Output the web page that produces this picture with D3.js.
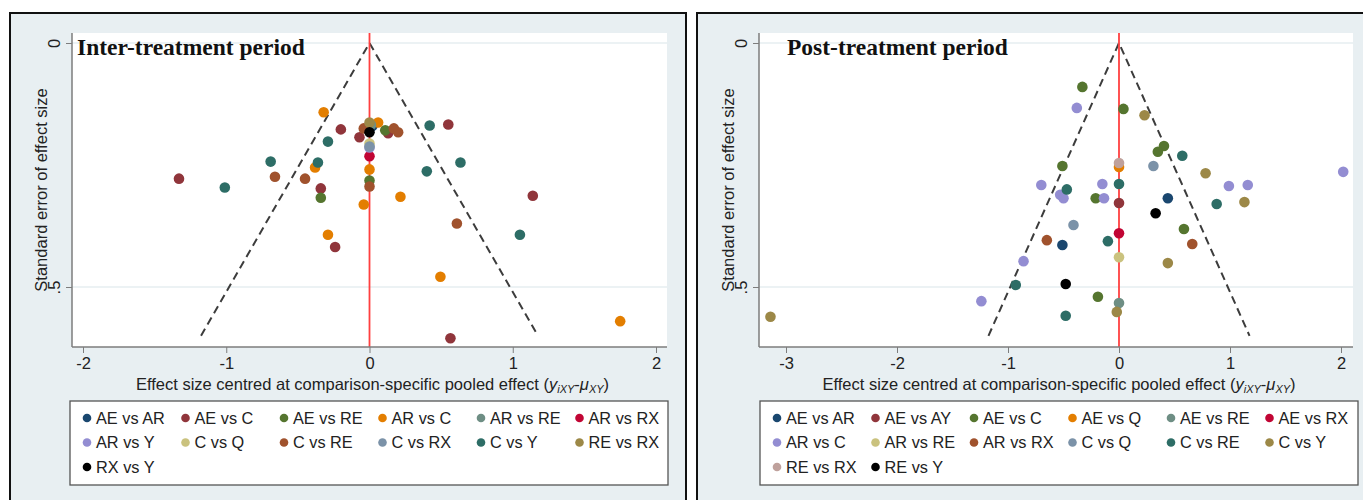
<!DOCTYPE html>
<html>
<head>
<meta charset="utf-8">
<script src="https://cdn.jsdelivr.net/npm/d3@7"></script>
<style>
  body { margin: 0; background: #fff; }
  svg { display: block; font-family: "Liberation Sans", Arial, sans-serif; }
</style>
</head>
<body>
<svg width="1363" height="500"></svg>
<script>
// Stata s2color-style palette, in legend order
var palette = ["#1a476f", "#90353b", "#55752f", "#e37e00", "#6e8e84", "#c10534",
               "#938dd2", "#cac27e", "#a0522d", "#7b92a8", "#2d6d66", "#9c8847", "#000000"];
var palettePost = ["#1a476f", "#90353b", "#55752f", "#e37e00", "#6e8e84", "#c10534",
                   "#938dd2", "#cac27e", "#a0522d", "#7b92a8", "#2d6d66", "#9c8847", "#bfa19c", "#000000"];

// Inter-treatment period
var interComparisons = ["AE vs AR", "AE vs C", "AE vs RE", "AR vs C", "AR vs RE", "AR vs RX",
                        "AR vs Y", "C vs Q", "C vs RE", "C vs RX", "C vs Y", "RE vs RX", "RX vs Y"];
var interXTicks = [-2, -1, 0, 1, 2];
// [comparison, effect centred, standard error]
var interPoints = [
  ["AE vs AR", 0.02, 0.17],
  ["AE vs C", -0.20, 0.177], ["AE vs C", -1.33, 0.278], ["AE vs C", -0.34, 0.298],
  ["AE vs C", -0.24, 0.418], ["AE vs C", -0.07, 0.193], ["AE vs C", 0.13, 0.185],
  ["AE vs C", 0.55, 0.167], ["AE vs C", 1.14, 0.313], ["AE vs C", 0.565, 0.605],
  ["AE vs RE", -0.34, 0.317], ["AE vs RE", 0.0, 0.282], ["AE vs RE", 0.11, 0.179],
  ["AR vs C", -0.32, 0.142], ["AR vs C", -0.38, 0.255], ["AR vs C", -0.29, 0.393],
  ["AR vs C", 0.06, 0.163], ["AR vs C", 0.0, 0.259], ["AR vs C", 0.216, 0.315],
  ["AR vs C", -0.04, 0.331], ["AR vs C", 0.495, 0.479], ["AR vs C", 1.75, 0.570],
  ["AR vs RE", 0.01, 0.168],
  ["AR vs RX", 0.0, 0.232],
  ["AR vs Y", 0.0, 0.214],
  ["C vs Q", 0.0, 0.206],
  ["C vs RE", -0.66, 0.274], ["C vs RE", -0.45, 0.278], ["C vs RE", -0.04, 0.175],
  ["C vs RE", 0.0, 0.294], ["C vs RE", 0.17, 0.175], ["C vs RE", 0.20, 0.183],
  ["C vs RE", 0.61, 0.370],
  ["C vs RX", 0.0, 0.212],
  ["C vs Y", -0.29, 0.202], ["C vs Y", -0.69, 0.243], ["C vs Y", -0.36, 0.245],
  ["C vs Y", -1.01, 0.296], ["C vs Y", 0.42, 0.169], ["C vs Y", 0.635, 0.245],
  ["C vs Y", 0.40, 0.263], ["C vs Y", 1.05, 0.393],
  ["RE vs RX", 0.0, 0.163],
  ["RX vs Y", 0.0, 0.183]
];

// Post-treatment period
var postComparisons = ["AE vs AR", "AE vs AY", "AE vs C", "AE vs Q", "AE vs RE", "AE vs RX",
                       "AR vs C", "AR vs RE", "AR vs RX", "C vs Q", "C vs RE", "C vs Y",
                       "RE vs RX", "RE vs Y"];
var postXTicks = [-3, -2, -1, 0, 1, 2];
var postPoints = [
  ["AE vs AR", 0.44, 0.318], ["AE vs AR", -0.51, 0.414],
  ["AE vs AY", 0.0, 0.328],
  ["AE vs C", -0.33, 0.090], ["AE vs C", 0.04, 0.135], ["AE vs C", 0.405, 0.211],
  ["AE vs C", 0.35, 0.223], ["AE vs C", -0.51, 0.252], ["AE vs C", -0.21, 0.318],
  ["AE vs C", 0.585, 0.381], ["AE vs C", -0.19, 0.520],
  ["AE vs Q", 0.0, 0.254],
  ["AE vs RE", 0.0, 0.533],
  ["AE vs RX", 0.0, 0.390],
  ["AR vs C", -0.38, 0.133], ["AR vs C", 2.02, 0.264], ["AR vs C", -0.70, 0.291],
  ["AR vs C", -0.15, 0.289], ["AR vs C", 0.99, 0.293], ["AR vs C", 1.16, 0.291],
  ["AR vs C", -0.53, 0.311], ["AR vs C", -0.50, 0.318], ["AR vs C", -0.135, 0.318],
  ["AR vs C", -0.86, 0.447], ["AR vs C", -1.24, 0.529],
  ["AR vs RE", 0.0, 0.439],
  ["AR vs RX", -0.65, 0.404], ["AR vs RX", 0.66, 0.412],
  ["C vs Q", 0.31, 0.252], ["C vs Q", -0.41, 0.373],
  ["C vs RE", 0.57, 0.231], ["C vs RE", 0.0, 0.289], ["C vs RE", -0.47, 0.300],
  ["C vs RE", 0.88, 0.330], ["C vs RE", -0.10, 0.406], ["C vs RE", -0.93, 0.496],
  ["C vs RE", -0.48, 0.559],
  ["C vs Y", 0.23, 0.148], ["C vs Y", 0.78, 0.267], ["C vs Y", 1.13, 0.326],
  ["C vs Y", 0.44, 0.451], ["C vs Y", -0.02, 0.551], ["C vs Y", -3.14, 0.561],
  ["RE vs RX", 0.0, 0.246],
  ["RE vs Y", 0.33, 0.349], ["RE vs Y", -0.48, 0.494]
];

var yTicks = [0, 0.5];
var yTickLabels = ["0", ".5"];

var svg = d3.select("svg");

function drawPanel(opt) {
  var g = svg.append("g");

  // panel frame + background
  g.append("rect")
    .attr("x", opt.left).attr("y", 13)
    .attr("width", opt.right - opt.left).attr("height", 520)
    .attr("fill", "#e8eff2")
    .attr("stroke", "#111").attr("stroke-width", 2);

  var x = d3.scaleLinear().domain(opt.xDomain).range(opt.xRange),
      y = d3.scaleLinear().domain([0, 0.5]).range([43, 287]);

  var px0 = opt.plotLeft, px1 = opt.plotRight, py0 = 33, py1 = 347;

  // plot region
  g.append("rect")
    .attr("x", px0).attr("y", py0)
    .attr("width", px1 - px0).attr("height", py1 - py0)
    .attr("fill", "#fff");

  // light gridlines
  g.selectAll(".grid").data(yTicks).enter().append("line")
    .attr("x1", px0).attr("x2", px1)
    .attr("y1", function(d) { return y(d); }).attr("y2", function(d) { return y(d); })
    .attr("stroke", "#e6eef0").attr("stroke-width", 1.5);

  // funnel (pseudo 95% limits)
  var funnel = [[-1.96 * 0.6, 0.6], [0, 0], [1.96 * 0.6, 0.6]];
  g.append("path")
    .datum(funnel)
    .attr("fill", "none")
    .attr("stroke", "#3c3c3c")
    .attr("stroke-width", 2)
    .attr("stroke-dasharray", "8,5")
    .attr("d", d3.line().x(function(d) { return x(d[0]); }).y(function(d) { return y(d[1]); }));

  // reference line at zero
  g.append("line")
    .attr("x1", x(0)).attr("x2", x(0))
    .attr("y1", py0).attr("y2", py1)
    .attr("stroke", "#ff4040").attr("stroke-width", 1.8);

  // points, drawn in legend order so later series sit on top
  var pts = opt.points.slice().sort(function(a, b) {
    return opt.cats.indexOf(a[0]) - opt.cats.indexOf(b[0]);
  });
  g.selectAll(".pt").data(pts).enter().append("circle")
    .attr("cx", function(d) { return x(d[1]); })
    .attr("cy", function(d) { return y(d[2]); })
    .attr("r", 5.3)
    .attr("fill", function(d) { return opt.colors[opt.cats.indexOf(d[0])]; });

  // axes
  var xAxis = g.append("g")
    .attr("transform", "translate(0," + py1 + ")")
    .call(d3.axisBottom(x).tickValues(opt.xTicks).tickSize(6).tickPadding(4).tickFormat(d3.format("d")));
  xAxis.select(".domain").attr("d", "M" + px0 + ",0H" + px1).attr("stroke", "#7d7d7d").attr("stroke-width", 1.5);
  xAxis.selectAll(".tick line").attr("stroke", "#7d7d7d");
  xAxis.selectAll("text").attr("font-size", 16.5).attr("fill", "#222")
    .text(function(d) { return d < 0 ? "-" + Math.abs(d) : d; });

  var yAxis = g.append("g")
    .attr("transform", "translate(" + px0 + ",0)")
    .call(d3.axisLeft(y).tickValues(yTicks).tickSize(6).tickFormat(function(d, i) { return yTickLabels[i]; }));
  yAxis.select(".domain").attr("d", "M0," + py0 + "V" + py1).attr("stroke", "#7d7d7d").attr("stroke-width", 1.5);
  yAxis.selectAll(".tick line").attr("stroke", "#7d7d7d");
  yAxis.selectAll("text")
    .attr("font-size", 16.5).attr("fill", "#222")
    .attr("x", null).attr("dy", null)
    .attr("text-anchor", "middle")
    .attr("transform", "translate(-12,0) rotate(-90)");

  // title
  g.append("text")
    .attr("x", opt.titleX).attr("y", 55)
    .attr("font-family", "'Liberation Serif', 'Times New Roman', serif")
    .attr("font-weight", "bold")
    .attr("font-size", 23.5)
    .attr("fill", "#111")
    .text(opt.title);

  // y axis title
  g.append("text")
    .attr("transform", "translate(" + (px0 - 25) + "," + 190 + ") rotate(-90)")
    .attr("text-anchor", "middle")
    .attr("font-size", 16.5).attr("fill", "#222")
    .text("Standard error of effect size");

  // x axis title
  var xt = g.append("text")
    .attr("x", (px0 + px1) / 2 + 3).attr("y", 390)
    .attr("text-anchor", "middle")
    .attr("font-size", 16.5).attr("fill", "#222");
  xt.append("tspan").text("Effect size centred at comparison-specific pooled effect (");
  xt.append("tspan").attr("font-style", "italic").text("y");
  xt.append("tspan").attr("font-style", "italic").attr("font-size", 11).attr("dy", 3).text("iXY");
  xt.append("tspan").attr("dy", -3).text("-");
  xt.append("tspan").attr("font-style", "italic").text("μ");
  xt.append("tspan").attr("font-style", "italic").attr("font-size", 11).attr("dy", 3).text("XY");
  xt.append("tspan").attr("dy", -3).text(")");

  // legend
  g.append("rect")
    .attr("x", opt.legendLeft).attr("y", 401)
    .attr("width", 598).attr("height", 84)
    .attr("fill", "#fff").attr("stroke", "#555").attr("stroke-width", 1.3);

  var items = g.selectAll(".leg").data(opt.cats).enter().append("g")
    .attr("transform", function(d, i) {
      return "translate(" + (opt.legendLeft + 17 + (i % 6) * 98.5) + "," + (418 + Math.floor(i / 6) * 24.5) + ")";
    });
  items.append("circle").attr("r", 4.3).attr("cy", 0)
    .attr("fill", function(d, i) { return opt.colors[i]; });
  items.append("text").attr("x", 9).attr("dy", "0.36em")
    .attr("font-size", 16.3).attr("fill", "#222")
    .text(function(d) { return d; });
}

drawPanel({
  left: 10, right: 686, plotLeft: 72, plotRight: 667,
  xDomain: [-2, 2], xRange: [83, 656], xTicks: interXTicks,
  cats: interComparisons, colors: palette, points: interPoints,
  title: "Inter-treatment period", titleX: 77, legendLeft: 70
});

drawPanel({
  left: 697, right: 1375, plotLeft: 759, plotRight: 1353,
  xDomain: [-3, 2], xRange: [786, 1341], xTicks: postXTicks,
  cats: postComparisons, colors: palettePost, points: postPoints,
  title: "Post-treatment period", titleX: 787, legendLeft: 760
});
</script>
</body>
</html>
